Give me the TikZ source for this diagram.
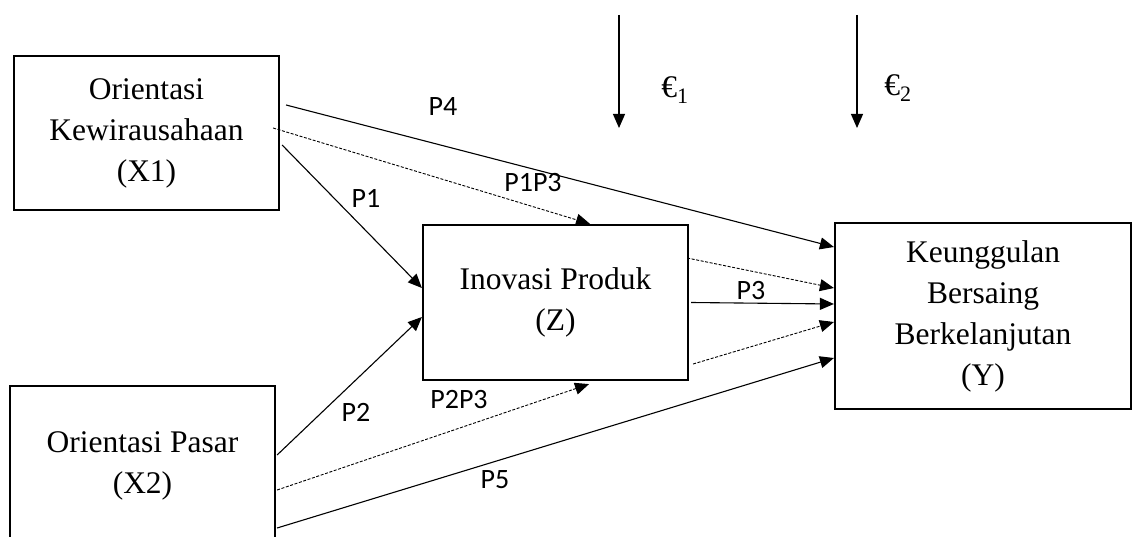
\documentclass[tikz,border=0pt]{standalone}
\usepackage{fontspec}
\setmainfont{Liberation Serif}
\newfontfamily\pfont{Carlito}
\usetikzlibrary{arrows.meta}

\tikzset{
  var/.style={draw, rectangle, line width=2.2pt, align=center, inner sep=0pt,
    font=\fontsize{31.5}{41}\selectfont},
  link/.style={-{Triangle[length=14pt,width=12pt]}, line width=1.1pt},
  linkdash/.style={link, line width=0.9pt, dash pattern=on 3pt off 1.6pt},
  plabel/.style={font=\pfont\fontsize{28}{32}\selectfont},
  errlabel/.style={font=\fontsize{31.5}{36}\selectfont}
}

\begin{document}
\begin{tikzpicture}[x=1pt,y=-1pt]
\useasboundingbox (0,0) rectangle (1134,537);
\node[var, minimum width=265pt, minimum height=154pt] (x1) at (146.5,133) {Orientasi\\Kewirausahaan\\(X1)};
\node[var, minimum width=265pt, minimum height=160pt] (x2) at (142.5,466) {Orientasi Pasar\\(X2)};
\node[var, minimum width=265pt, minimum height=155pt] (z) at (555.5,302.5) {Inovasi Produk\\(Z)};
\node[var, minimum width=296pt, minimum height=186pt] (y) at (983,316) {Keunggulan\\Bersaing\\Berkelanjutan\\(Y)};
% error terms
\coordinate (e1top) at (619,15);
\coordinate (e1end) at (619,128);
\coordinate (e2top) at (857,15);
\coordinate (e2end) at (857,128);
\node[errlabel] (e1) at (675,90) {€\textsubscript{1}};
\node[errlabel] (e2) at (898,88) {€\textsubscript{2}};
\draw[link] (e1top) -- (e1end);
\draw[link] (e2top) -- (e2end);
% direct paths
\draw[link] ([shift={(6,-28)}]x1.east) -- ([shift={(0,-69)}]y.west);
\draw[link] ([shift={(2,12)}]x1.east) -- ([shift={(0,-14.5)}]z.west);
\draw[link] ([shift={(1,-11)}]x2.east) -- ([shift={(0,14.5)}]z.west);
\draw[link] ([shift={(2,0)}]z.east) -- ([shift={(0,-12)}]y.west);
\draw[link] ([shift={(1,62)}]x2.east) -- ([shift={(0,42)}]y.west);
% indirect paths
\draw[linkdash] ([shift={(-7,-5)}]x1.east) -- ([shift={(34.5,0)}]z.north);
\draw[linkdash] ([shift={(1,24)}]x2.east) -- ([shift={(33.5,3)}]z.south);
\draw[linkdash] ([shift={(-2,-44.5)}]z.east) -- ([shift={(0,-28)}]y.west);
\draw[linkdash] ([shift={(4,61.5)}]z.east) -- ([shift={(0,6)}]y.west);
% labels
\node[plabel] (p4) at (443,107) {P4};
\node[plabel] (p1p3) at (533,183) {P1P3};
\node[plabel] (p1) at (366,198) {P1};
\node[plabel] (p2) at (356,412) {P2};
\node[plabel] (p2p3) at (459,400) {P2P3};
\node[plabel] (p3) at (751,291) {P3};
\node[plabel] (p5) at (495,480) {P5};
\end{tikzpicture}
\end{document}
